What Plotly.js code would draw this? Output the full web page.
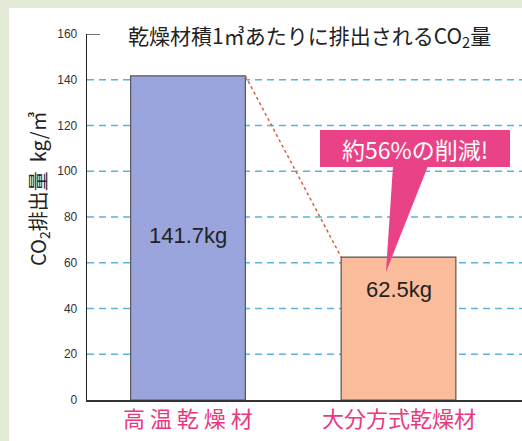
<!DOCTYPE html>
<html><head><meta charset="utf-8">
<script src="https://cdn.plot.ly/plotly-3.0.1.min.js"></script>
<style>html,body{margin:0;padding:0;background:#fff}#c{width:522px;height:441px}</style>
</head><body><div id="c"></div>
<script>
const categories = ['高 温 乾 燥 材', '大分方式乾燥材'];
const values = [141.7, 62.5];
const valueLabels = ['141.7kg', '62.5kg'];
const barColors = ['#9ba5dd', '#fbbc9c'];
const tickVals = [0, 20, 40, 60, 80, 100, 120, 140, 160];
const gridVals = [20, 40, 60, 80, 100, 120, 140];
const titleText = '乾燥材積1㎥あたりに排出されるCO<sub>2</sub>量';
const yTitleText = 'CO<sub>2</sub>排出量  kg/㎥';
const calloutText = '約56%の削減!';

const W = 522, H = 441;
const L = 87, R = 0, T = 34, B = 41;
const pw = W - L - R, ph = H - T - B;
const px = x => (x - L) / pw;
const py = y => (H - B - y) / ph;
const barWidth = 0.545;
const JP = '"Noto Sans CJK JP", "Noto Sans", sans-serif';
const LAT = '"Liberation Sans", Arial, sans-serif';

const shapes = [];
// green frame strips
shapes.push({type:'rect', xref:'paper', yref:'paper', x0:px(0), x1:px(9), y0:py(H), y1:py(0), fillcolor:'#e3ead6', line:{width:0}, layer:'below'});
shapes.push({type:'rect', xref:'paper', yref:'paper', x0:px(0), x1:px(W), y0:py(8), y1:py(0), fillcolor:'#e3ead6', line:{width:0}, layer:'below'});
// dashed grid lines
gridVals.forEach(v => shapes.push({type:'line', xref:'paper', yref:'y', x0:0, x1:1, y0:v, y1:v, line:{color:'#5cb2da', width:1.3, dash:'7px,5px'}, layer:'below'}));
// top cap at 160
shapes.push({type:'line', xref:'paper', yref:'y', x0:0, x1:px(100), y0:160, y1:160, line:{color:'#222', width:1.3}});
// red dashed connector between bar tops
shapes.push({type:'line', xref:'x', yref:'y', x0:0 + barWidth/2, y0:values[0], x1:1 - barWidth/2, y1:values[1], line:{color:'#d8603e', width:1.5, dash:'3px,3px'}});
// callout
shapes.push({type:'rect', xref:'paper', yref:'paper', x0:px(320), x1:px(510), y0:py(167), y1:py(130), fillcolor:'#ea4286', line:{width:0}});
shapes.push({type:'path', xref:'paper', yref:'paper', path:`M ${px(393)} ${py(166)} L ${px(428)} ${py(166)} L ${px(386)} ${py(272)} Z`, fillcolor:'#ea4286', line:{width:0}});

const annotations = [
  {xref:'paper', yref:'paper', x:px(309), y:py(36), text:titleText, showarrow:false, font:{family:JP, size:21, color:'#222'}, xanchor:'center', yanchor:'middle'},
  {xref:'paper', yref:'paper', x:px(38), y:py(189), text:yTitleText, textangle:-90, showarrow:false, font:{family:JP, size:20, color:'#222'}, xanchor:'center', yanchor:'middle'},
  {xref:'paper', yref:'paper', x:px(415), y:py(149), text:calloutText, showarrow:false, font:{family:JP, size:23, color:'#ffffff'}, xanchor:'center', yanchor:'middle'}
];
// value labels inside bars
annotations.push({xref:'x', yref:'paper', x:0, y:py(235), text:valueLabels[0], showarrow:false, font:{family:LAT, size:22, color:'#222'}, yanchor:'middle'});
annotations.push({xref:'x', yref:'paper', x:1, y:py(289), text:valueLabels[1], showarrow:false, font:{family:LAT, size:22, color:'#222'}, yanchor:'middle'});
// category labels
categories.forEach((c, i) => annotations.push({xref:'x', yref:'paper', x:i, y:py(417), text:c, showarrow:false, font:{family:JP, size:22, color:'#e8397f'}, yanchor:'middle'}));

const trace = {
  type:'bar', x:[0,1], y:values, width:barWidth,
  marker:{color:barColors, line:{color:'#555', width:1.2}},
  hoverinfo:'skip'
};

const layout = {
  width:W, height:H,
  margin:{l:L, r:R, t:T, b:B, pad:0},
  paper_bgcolor:'#ffffff', plot_bgcolor:'#ffffff',
  showlegend:false,
  xaxis:{type:'linear', range:[-(188-L)/210.5, 1 + (W-398.5)/210.5], tickvals:[0,1], showticklabels:false,
    showgrid:false, zeroline:false, showline:true, linecolor:'#333', linewidth:1.5, ticks:'', fixedrange:true},
  yaxis:{range:[0,160], tickvals:tickVals, showgrid:false, zeroline:false, showline:true, linecolor:'#222', linewidth:1.3,
    ticks:'', tickfont:{family:LAT, size:12, color:'#333'}, ticklabelstandoff:6, fixedrange:true},
  shapes, annotations
};
Plotly.newPlot('c', [trace], layout, {displayModeBar:false, staticPlot:true});
</script></body></html>
